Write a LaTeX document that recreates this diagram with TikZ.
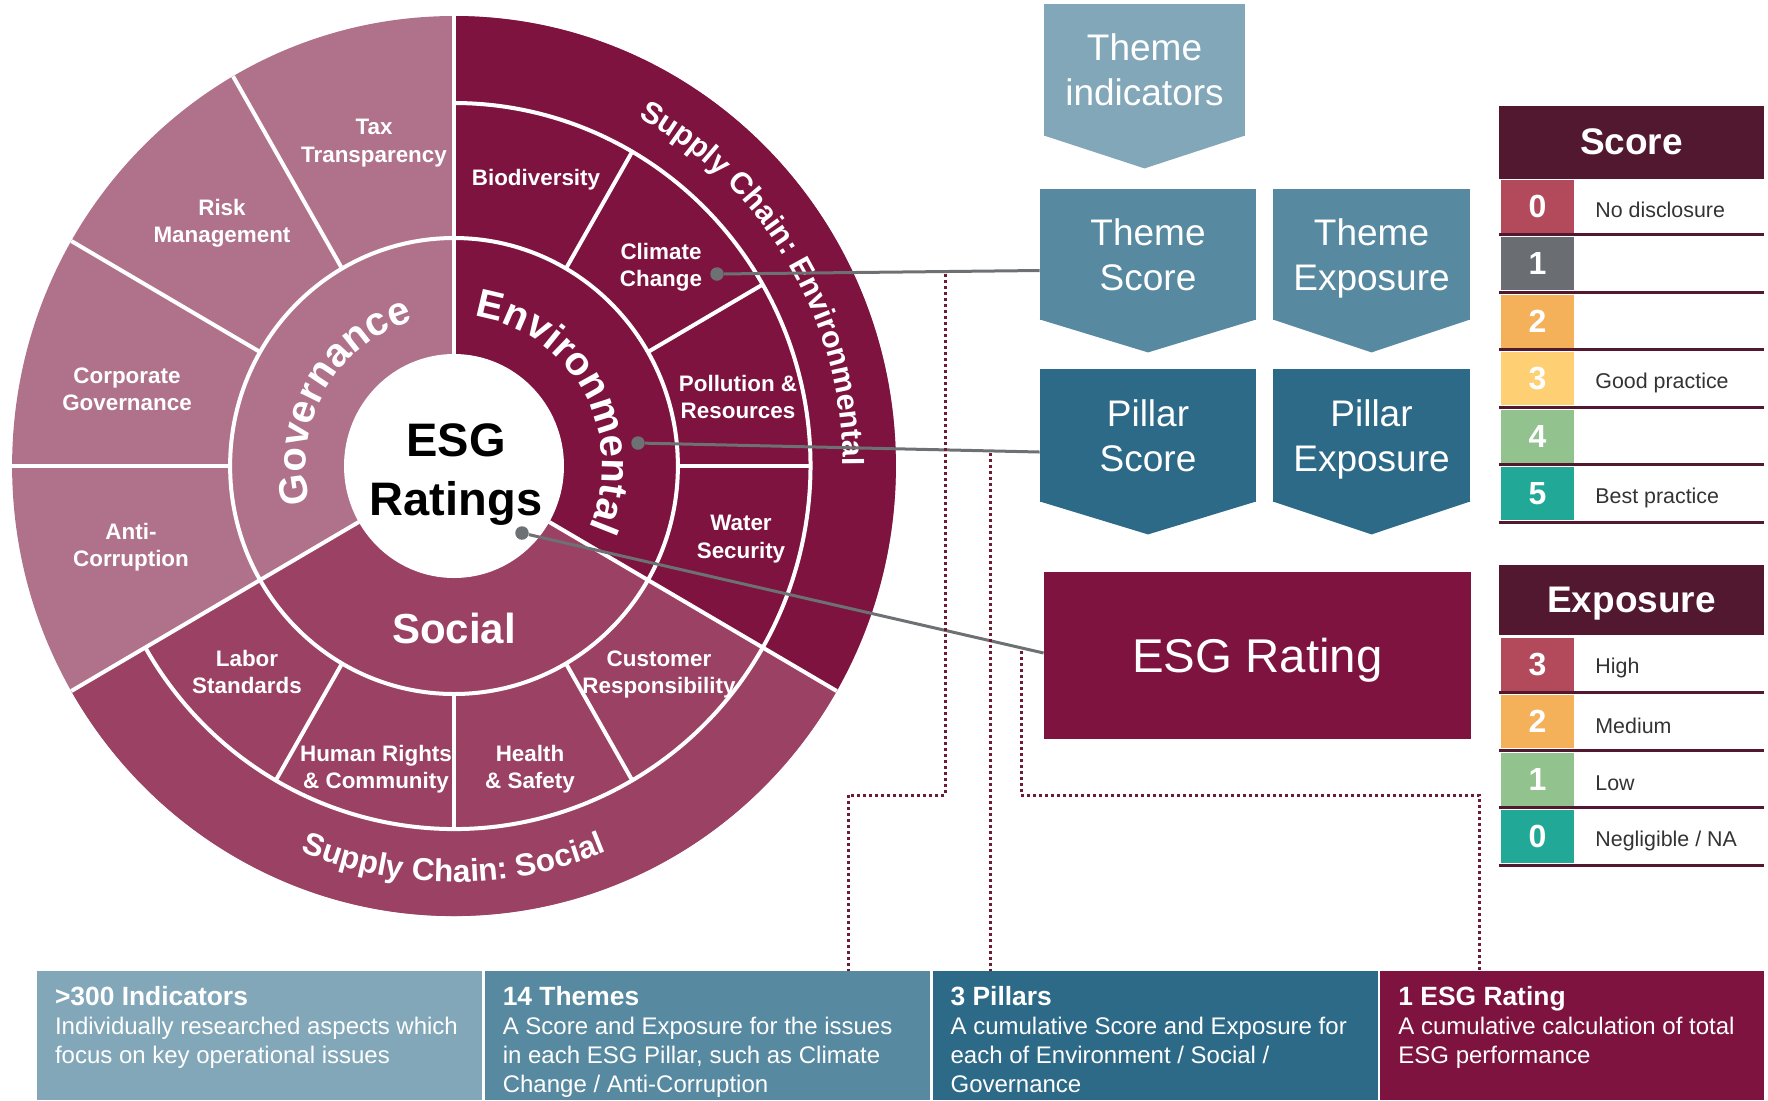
\documentclass[tikz,border=0pt]{standalone}
\usepackage{fontspec}
\setmainfont{Liberation Sans}
\usetikzlibrary{positioning, calc, decorations.text}
\definecolor{esggov}{HTML}{B0728B}
\definecolor{esgenv}{HTML}{7E133F}
\definecolor{esgsoc}{HTML}{9A4164}
\definecolor{esgind}{HTML}{82A7B9}
\definecolor{esgtheme}{HTML}{5789A0}
\definecolor{esgpillar}{HTML}{2D6A88}
\definecolor{esghead}{HTML}{521830}
\definecolor{esgline}{HTML}{6E7173}
\definecolor{esgdot}{HTML}{6E1C34}
\definecolor{sczero}{HTML}{B24A5C}
\definecolor{scone}{HTML}{6A6E72}
\definecolor{sctwo}{HTML}{F5B05A}
\definecolor{scthree}{HTML}{FFD073}
\definecolor{scfour}{HTML}{92C38E}
\definecolor{scfive}{HTML}{21A896}
\newcommand{\pillarfont}{\bfseries\fontsize{20}{20}\selectfont}
\newcommand{\chainfont}{\bfseries\fontsize{15.8}{15.8}\selectfont}
\newcommand{\chainenvfont}{\bfseries\fontsize{15.2}{15.2}\selectfont}

\begin{document}
\begin{tikzpicture}[x=0.5pt, y=-0.5pt,
  every node/.style={text=white, inner sep=0pt},
  ringsep/.style={white, line width=2pt},
  theme/.style={font=\bfseries\fontsize{11.2}{13.75}\selectfont, align=center, text depth=0pt},
  pillar/.style={font=\bfseries\fontsize{21}{21}\selectfont},
  chevron/.style={fill=#1, font=\fontsize{18.5}{22.5}\selectfont, align=center, text depth=0pt},
  headcell/.style={fill=esghead, font=\bfseries\fontsize{18.5}{18.5}\selectfont, minimum width=132.5pt, minimum height=36.5pt, text depth=0pt},
  numcell/.style={fill=#1, font=\bfseries\fontsize{16}{16}\selectfont, minimum width=36.5pt, minimum height=26.5pt},
  desc/.style={text=black!80, font=\fontsize{10.7}{12}\selectfont, anchor=west},
  rowline/.style={esghead, line width=1.5pt},
  conn/.style={esgline, line width=1.5pt},
  dotline/.style={esgdot, line width=1.5pt, dash pattern=on 1.5pt off 1.5pt},
  tapdot/.style={circle, fill=esgline, minimum size=6.75pt},
  btm/.style={fill=#1, minimum height=64.5pt},
  btmtext/.style={anchor=north west, align=left, font=\fontsize{12}{14.5}\selectfont},
]
\useasboundingbox (0,0) rectangle (1768,1100);

% Wheel
\begin{scope}[shift={(454,466)}, x=0.491pt, y=0.5pt]
  \fill[esggov] (0,0) circle[radius=450];
  \fill[esgenv] (0,0) -- (90:450) arc[start angle=90, end angle=-30, radius=450] -- cycle;
  \fill[esgsoc] (0,0) -- (-30:450) arc[start angle=-30, end angle=-150, radius=450] -- cycle;
  \fill[white] (0,0) circle[radius=112];
  \draw[ringsep] (0,0) circle[radius=228];
  \draw[ringsep] (-150:363) arc[start angle=-150, end angle=90, radius=363];
  \foreach \a in {90,-30,210} \draw[ringsep] (\a:112) -- (\a:450);
  \foreach \a in {60,30,0,-60,-90,-120} \draw[ringsep] (\a:228) -- (\a:363);
  \foreach \a in {120,150,180} \draw[ringsep] (\a:228) -- (\a:450);
  % curved labels
  \path[decorate, decoration={text along path, text align=center, text color=white, text={|\pillarfont|Governance}}]
    (205:151) arc[start angle=205, end angle=95, radius=151];
  \path[decorate, decoration={text along path, text align=center, text color=white, text={|\pillarfont|Environmental}}]
    (92:151) arc[start angle=92, end angle=-34, radius=151];
  \path[decorate, decoration={text along path, text align=center, text color=white, text={|\chainenvfont|Supply Chain: Environmental}}]
    (76:396) arc[start angle=76, end angle=-14, radius=396];
  \path[decorate, decoration={text along path, text align=center, text color=white, text={|\chainfont|Supply Chain: Social}}]
    (200:416) arc[start angle=200, end angle=340, radius=416];
\end{scope}

\node[theme] (tax) at (374,141) {Tax\\Transparency};
\node[theme] (risk) at (222,221) {Risk\\Management};
\node[theme] (corp) at (127,389) {Corporate\\Governance};
\node[theme] (anti) at (131,545) {Anti-\\Corruption};
\node[theme] (bio) at (536,177) {Biodiversity};
\node[theme] (clim) at (661,265) {Climate\\Change};
\node[theme] (poll) at (738,397) {Pollution \&\\Resources};
\node[theme] (water) at (741,537) {Water\\Security};
\node[theme] (cust) at (659,672) {Customer\\Responsibility};
\node[theme] (health) at (530,767) {Health\\\& Safety};
\node[theme] (human) at (376,767) {Human Rights\\\& Community};
\node[theme] (labor) at (247,672) {Labor\\Standards};
\node[pillar] (social) at (454,628) {Social};
\node[text=black, font=\bfseries\fontsize{23.5}{29.5}\selectfont, align=center] (core) at (456,475) {ESG\\Ratings};

% Flow boxes
\node[chevron=esgind, minimum width=100.5pt, minimum height=66pt] (ind) at (1144.5,70) {Theme\\indicators};
\node[chevron=esgtheme, minimum width=108pt, minimum height=65.5pt] (tscore) at (1148,254.5) {Theme\\Score};
\node[chevron=esgtheme, minimum width=98.5pt, minimum height=65.5pt] (texpo) at (1371.5,254.5) {Theme\\Exposure};
\node[chevron=esgpillar, minimum width=108pt, minimum height=66.5pt] (pscore) at (1148,435.5) {Pillar\\Score};
\node[chevron=esgpillar, minimum width=98.5pt, minimum height=66.5pt] (pexpo) at (1371.5,435.5) {Pillar\\Exposure};
\foreach \n/\c in {ind/esgind, tscore/esgtheme, texpo/esgtheme, pscore/esgpillar, pexpo/esgpillar}
  \fill[\c] ($(\n.south west)+(0,-1)$) -- ($(\n.south east)+(0,-1)$) -- ($(\n.south)+(0,32)$) -- cycle;
\node[fill=esgenv, minimum width=213.5pt, minimum height=83.5pt, text depth=0pt, font=\fontsize{23.7}{23.7}\selectfont] (rating) at (1257.5,655.5) {ESG Rating};

% Bottom summary
\node[btm=esgind, minimum width=222.5pt] (b1) at (259.5,1035.5) {};
\node[btm=esgtheme, minimum width=222.5pt, right=1pt of b1] (b2) {};
\node[btm=esgpillar, minimum width=222.5pt, right=1pt of b2] (b3) {};
\node[btm=esgenv, minimum width=192pt, right=1pt of b3] (b4) {};
\node[btmtext] (b1txt) at ([xshift=9pt, yshift=-7.5pt]b1.north west) {{\bfseries\fontsize{13.2}{14.5}\selectfont >300 Indicators}\\Individually researched aspects which\\focus on key operational issues};
\node[btmtext] (b2txt) at ([xshift=9pt, yshift=-7.5pt]b2.north west) {{\bfseries\fontsize{13.2}{14.5}\selectfont 14 Themes}\\A Score and Exposure for the issues\\in each ESG Pillar, such as Climate\\Change / Anti-Corruption};
\node[btmtext] (b3txt) at ([xshift=9pt, yshift=-7.5pt]b3.north west) {{\bfseries\fontsize{13.2}{14.5}\selectfont 3 Pillars}\\A cumulative Score and Exposure for\\each of Environment / Social /\\Governance};
\node[btmtext] (b4txt) at ([xshift=9pt, yshift=-7.5pt]b4.north west) {{\bfseries\fontsize{13.2}{14.5}\selectfont 1 ESG Rating}\\A cumulative calculation of total\\ESG performance};

% Connectors
\node[tapdot] (ccdot) at (717,274) {};
\node[tapdot] (envdot) at (638,443) {};
\node[tapdot] (coredot) at (522,533) {};
\draw[conn] (ccdot) -- ([yshift=-8pt]tscore.west);
\draw[conn] (envdot) -- ([yshift=-8.25pt]pscore.west);
\draw[conn] (coredot) -- ([yshift=1.25pt]rating.west);
\coordinate (tapa) at (945,274);
\coordinate (tapb) at (990,453);
\coordinate (tapc) at (1021,651);
\draw[dotline] (tapa) |- (848,795) -- (b2.north -| 848,0);
\draw[dotline] (tapb) -- (b3.north -| tapb);
\draw[dotline] (tapc) |- (1479,795) -- (b4.north -| 1479,0);

% Score table
\node[headcell] (scorehd) at (1631.5,142) {Score};
\foreach \i/\c/\t in {0/sczero/No disclosure, 1/scone/, 2/sctwo/, 3/scthree/Good practice, 4/scfour/, 5/scfive/Best practice} {
  \node[numcell=\c] (sn\i) at (1537.5,{206+57.5*\i}) {\i};
  \node[desc] (sd\i) at (1595,{210+57.5*\i}) {\t};
  \draw[rowline] (1499,{234.5+57.5*\i}) -- (1764,{234.5+57.5*\i});
}

% Exposure table
\node[headcell, minimum height=35pt] (expohd) at (1631.5,600) {Exposure};
\foreach \n/\c/\t [count=\j from 0] in {3/sczero/High, 2/sctwo/Medium, 1/scfour/Low, 0/scfive/{Negligible / NA}} {
  \node[numcell=\c] (en\n) at (1537.5,{664+57.5*\j}) {\n};
  \node[desc] (ed\n) at (1595,{668+57.5*\j}) {\t};
  \draw[rowline] (1499,{692.5+57.5*\j}) -- (1764,{692.5+57.5*\j});
}
\end{tikzpicture}
\end{document}
